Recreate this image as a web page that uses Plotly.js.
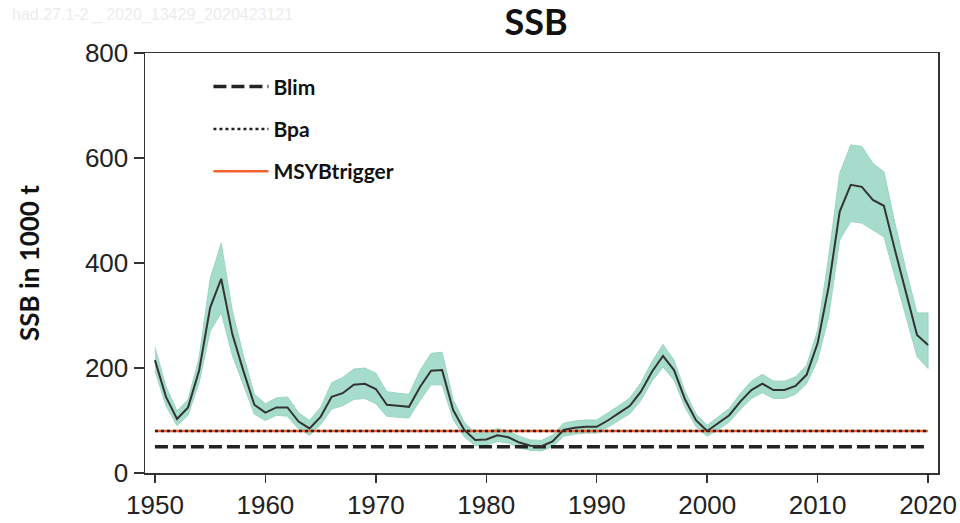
<!DOCTYPE html>
<html>
<head>
<meta charset="utf-8">
<script src="https://cdn.plot.ly/plotly-3.0.1.min.js"></script>
<style>
  html, body { margin: 0; padding: 0; background: #ffffff; }
  #chart { width: 960px; height: 523px; }
</style>
</head>
<body>
<div id="chart"></div>
<script>
// ---- data ----
const years = [
  1950,1951,1952,1953,1954,1955,1956,1957,1958,1959,
  1960,1961,1962,1963,1964,1965,1966,1967,1968,1969,
  1970,1971,1972,1973,1974,1975,1976,1977,1978,1979,
  1980,1981,1982,1983,1984,1985,1986,1987,1988,1989,
  1990,1991,1992,1993,1994,1995,1996,1997,1998,1999,
  2000,2001,2002,2003,2004,2005,2006,2007,2008,2009,
  2010,2011,2012,2013,2014,2015,2016,2017,2018,2019,
  2020
];
const ssb = [
  215,145,103,125,195,315,370,265,195,130,
  115,125,125,98,85,107,145,152,168,170,
  160,130,128,126,164,195,196,120,82,63,
  64,72,68,58,52,51,60,82,86,88,
  88,100,114,128,155,193,223,196,140,100,
  80,95,110,136,158,170,158,158,166,187,
  247,355,498,549,545,520,509,425,342,263,
  244
];
const ssbHigh = [
  240,165,118,140,220,370,438,310,225,150,
  132,143,145,115,100,125,172,182,198,200,
  190,155,152,150,195,228,230,140,97,76,
  77,85,80,70,63,62,72,95,99,101,
  101,114,128,143,172,212,245,215,155,112,
  91,107,123,151,175,188,175,175,183,205,
  272,412,571,625,622,590,574,476,387,305,
  305
];
const ssbLow = [
  195,128,90,110,172,270,305,225,168,112,
  100,110,108,84,72,92,122,128,140,142,
  132,108,106,105,138,168,168,102,69,52,
  53,60,57,48,43,42,50,70,74,76,
  76,87,100,113,138,175,202,177,125,88,
  70,83,97,121,142,153,142,142,150,170,
  215,298,444,479,476,463,450,374,298,222,
  199
];
const refYears = [1950, 2020];
const Blim = 50;
const Bpa = 80;
const MSYBtrigger = 80;
const xTicks = [1950,1960,1970,1980,1990,2000,2010,2020];
const yTicks = [0,200,400,600,800];

const bandX = years.concat(years.slice().reverse());
const bandY = ssbHigh.concat(ssbLow.slice().reverse());

const traces = [
  {
    x: bandX, y: bandY, type: 'scatter', mode: 'lines',
    fill: 'toself', fillcolor: '#a6dccb',
    line: { color: 'rgba(150,210,190,0.9)', width: 1 },
    showlegend: false, hoverinfo: 'skip'
  },
  {
    x: refYears, y: refYears.map(() => MSYBtrigger), type: 'scatter', mode: 'lines',
    name: 'MSYBtrigger', legendrank: 3, legendgroup: 'c',
    line: { color: '#f26430', width: 2.5 }
  },
  {
    x: refYears, y: refYears.map(() => Bpa), type: 'scatter', mode: 'lines',
    name: 'Bpa', legendrank: 2, legendgroup: 'b',
    line: { color: '#222222', width: 2.5, dash: '3px,3px' }
  },
  {
    x: refYears, y: refYears.map(() => Blim), type: 'scatter', mode: 'lines',
    name: 'Blim', legendrank: 1, legendgroup: 'a',
    line: { color: '#222222', width: 3.5, dash: '13px,5px' }
  },
  {
    x: years, y: ssb, type: 'scatter', mode: 'lines',
    line: { color: '#333333', width: 2 },
    showlegend: false
  }
];

const layout = {
  width: 960, height: 523,
  margin: { l: 145, r: 22, t: 53, b: 50 },
  paper_bgcolor: '#ffffff', plot_bgcolor: '#ffffff',
  title: {
    text: '<b>SSB</b>',
    font: { family: 'Lato, "Open Sans", sans-serif', size: 36, color: '#111111' },
    x: 536 / 960, xref: 'container', xanchor: 'center',
    y: 1 - 22 / 523, yref: 'container', yanchor: 'middle'
  },
  showlegend: true,
  legend: {
    x: 0.080, y: 0.968, xanchor: 'left', yanchor: 'top',
    bgcolor: 'rgba(0,0,0,0)',
    font: { family: 'Lato, "Open Sans", sans-serif', size: 21, color: '#111111', weight: 'bold' },
    tracegroupgap: 12,
    traceorder: 'grouped',
    itemwidth: 55
  },
  xaxis: {
    range: [1949.1, 2020.9],
    tickmode: 'array', tickvals: xTicks, ticktext: xTicks.map(String),
    ticks: 'outside', ticklen: 8, tickwidth: 1.5, tickcolor: '#333333',
    showline: true, linecolor: '#333333', linewidth: 1.5, mirror: true,
    showgrid: false, zeroline: false,
    tickfont: { family: '"Liberation Sans", Arial, sans-serif', size: 26, color: '#222222' }
  },
  yaxis: {
    range: [0, 800],
    tickmode: 'array', tickvals: yTicks, ticktext: yTicks.map(String),
    ticks: 'outside', ticklen: 10, tickwidth: 1.5, tickcolor: '#333333',
    showline: true, linecolor: '#333333', linewidth: 1.5, mirror: true,
    showgrid: false, zeroline: false,
    tickfont: { family: '"Liberation Sans", Arial, sans-serif', size: 26, color: '#222222' },
    title: {
      text: '<b>SSB in 1000 t</b>',
      font: { family: 'Lato, "Open Sans", sans-serif', size: 26, color: '#111111' },
      standoff: 38
    }
  },
  annotations: [
    {
      text: 'had.27.1-2 _ 2020_13429_2020423121',
      xref: 'paper', yref: 'paper', x: -135 / 793, y: 1 + (53 - 15) / 420,
      xanchor: 'left', yanchor: 'middle', showarrow: false,
      font: { family: '"Liberation Sans", Arial, sans-serif', size: 16, color: '#ececec' }
    }
  ]
};

Plotly.newPlot('chart', traces, layout, { displayModeBar: false, staticPlot: true });
</script>
</body>
</html>
